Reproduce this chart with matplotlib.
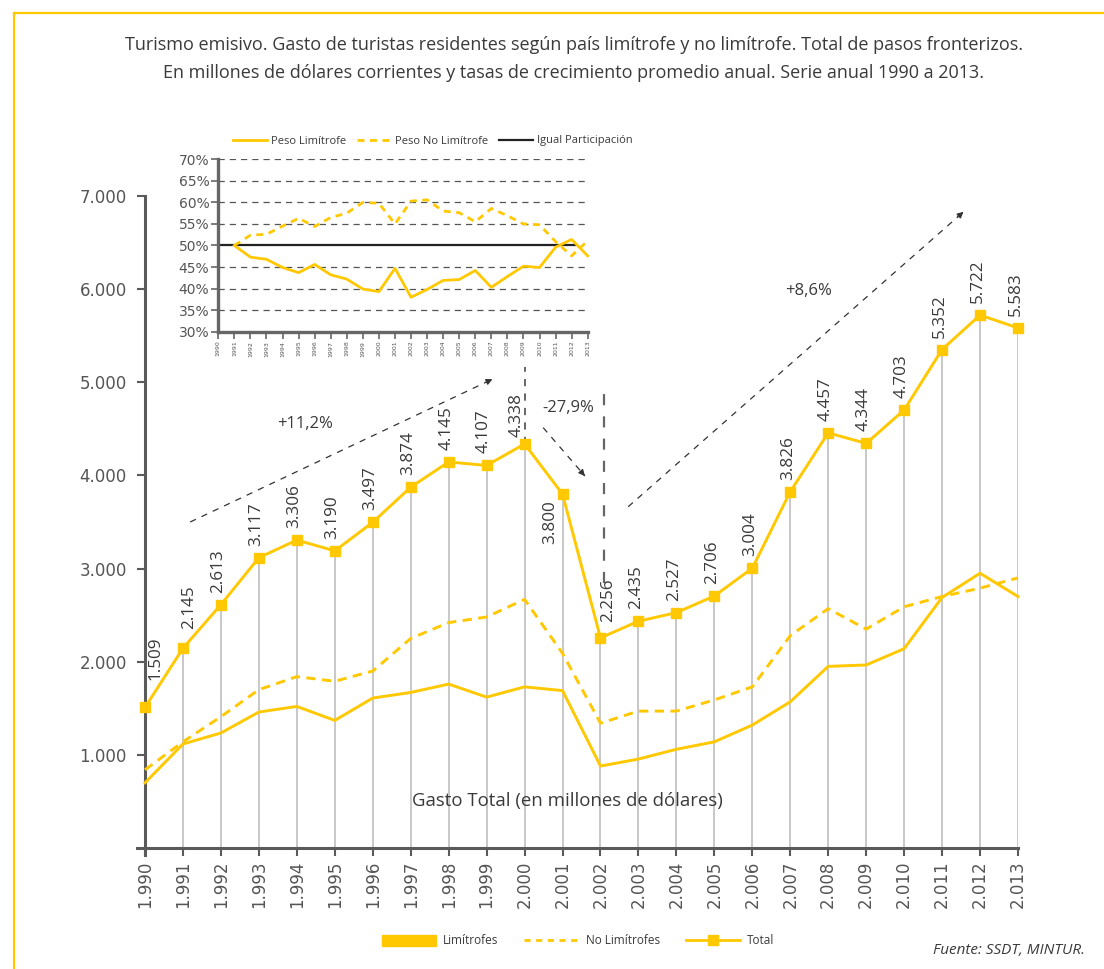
import matplotlib
matplotlib.use("Agg")
import matplotlib.pyplot as plt
from matplotlib.lines import Line2D
from matplotlib.patches import Patch

# ---------------- data ----------------
years = list(range(1990, 2014))
total = [1509, 2145, 2613, 3117, 3306, 3190, 3497, 3874, 4145, 4107, 4338, 3800,
         2256, 2435, 2527, 2706, 3004, 3826, 4457, 4344, 4703, 5352, 5722, 5583]
limitrofes = [700, 1117, 1235, 1460, 1520, 1370, 1610, 1670, 1760, 1620, 1730, 1690,
              880, 955, 1060, 1140, 1320, 1570, 1950, 1965, 2140, 2690, 2950, 2700]
no_limitrofes = [840, 1140, 1410, 1700, 1840, 1790, 1900, 2250, 2420, 2480, 2670, 2090,
                 1340, 1470, 1470, 1590, 1730, 2280, 2570, 2350, 2590, 2700, 2790, 2900]

# shares (%) shown in the small panel
share_years = list(range(1991, 2014))
peso_limitrofe = [50.0, 47.3, 46.8, 44.9, 43.7, 45.6, 43.2, 42.2, 39.9, 39.3, 44.7, 38.0,
                  39.8, 41.9, 42.1, 44.2, 40.3, 42.8, 45.2, 44.9, 49.6, 51.4, 47.6]
peso_no_limitrofe = [50.0, 52.4, 52.6, 54.5, 56.3, 54.4, 56.5, 57.5, 60.0, 59.8, 55.0, 60.3,
                     60.6, 58.0, 57.6, 55.5, 58.6, 56.9, 55.0, 54.8, 50.9, 47.6, 51.1]
igual = 50
pct_ticks = [30, 35, 40, 45, 50, 55, 60, 65, 70]

growth_labels = ["+11,2%", "-27,9%", "+8,6%"]

YEL = "#FFC800"
TXT = "#3a3a3a"
AX = "#5a5a5a"
W, H = 1104, 969

plt.rcParams["font.family"] = ["Open Sans", "DejaVu Sans"]

fig = plt.figure(figsize=(W / 100, H / 100), dpi=100)

def fx(px):
    return px / W

def fy(py):
    return 1 - py / H

# frame lines (top and left)
fig.add_artist(Line2D([fx(14), 1.0], [fy(13), fy(13)], color=YEL, lw=1.6))
fig.add_artist(Line2D([fx(14), fx(14)], [fy(13), 0.0], color=YEL, lw=1.6))

# title
fig.text(fx(574), fy(45), "Turismo emisivo. Gasto de turistas residentes según país limítrofe y no limítrofe. Total de pasos fronterizos.",
         ha="center", va="center", fontsize=13, color=TXT)
fig.text(fx(574), fy(73), "En millones de dólares corrientes y tasas de crecimiento promedio anual. Serie anual 1990 a 2013.",
         ha="center", va="center", fontsize=13, color=TXT)

# ---------------- main axes ----------------
px_per_year = (1018 - 145) / 23
left_px = 145 - 0.2 * px_per_year
ax = fig.add_axes([fx(left_px), fy(855), fx(1018) - fx(left_px), fy(196) - fy(855)])
ax.set_xlim(1989.8, 2013)
ax.set_ylim(-75, 7000)
ax.set_facecolor("none")

for s in ("top", "right"):
    ax.spines[s].set_visible(False)
ax.spines["left"].set_position(("data", 1990))
ax.spines["left"].set_bounds(-75, 7000)
ax.spines["bottom"].set_position(("data", 0))
ax.spines["bottom"].set_bounds(1989.8, 2013)
for s in ("left", "bottom"):
    ax.spines[s].set_color(AX)
    ax.spines[s].set_linewidth(2.2)

ax.set_yticks(range(1000, 7001, 1000))
ax.set_yticklabels([f"{v:,}".replace(",", ".") for v in range(1000, 7001, 1000)],
                   fontfamily="DejaVu Sans", fontsize=12)
ax.set_xticks(years)
ax.set_xticklabels([f"{y:,}".replace(",", ".") for y in years], rotation=90,
                   fontfamily="DejaVu Sans", fontsize=12)
ax.tick_params(axis="both", colors=AX, width=1.5, length=6)
ax.tick_params(axis="x", labelcolor="#555", pad=3)
ax.tick_params(axis="y", labelcolor="#555", pad=7)

# drop lines from the axis to each total
ax.vlines(years, 0, total, color="#c4c4c4", lw=1.3, zorder=1)

ax.plot(years, limitrofes, color=YEL, lw=2.1, zorder=3, clip_on=False)
ax.plot(years, no_limitrofes, color=YEL, lw=2.1, ls=(0, (3.2, 2.2)), zorder=3, clip_on=False)
ax.plot(years, total, color=YEL, lw=2.1, marker="s", ms=7.5, zorder=4, clip_on=False)

# value labels: pixel offsets from each marker (a few are nudged clear of other marks)
label_shift = {1990: (10, 27), 1991: (6, 19), 2000: (-8, 7), 2002: (8, 16)}
for y, v in zip(years, total):
    lab = f"{v:,}".replace(",", ".")
    if y == 2001:
        ax.annotate(lab, (y, v), xytext=(-12, -6), textcoords="offset pixels",
                    rotation=90, ha="center", va="top", fontsize=12.3, color=TXT)
    else:
        dx, dy = label_shift.get(y, (-2.5, 12))
        ax.annotate(lab, (y, v), xytext=(dx, dy), textcoords="offset pixels",
                    rotation=90, ha="center", va="bottom", fontsize=12.3, color=TXT)

# period separators
ax.plot([2000, 2000], [4338, 5167], color=AX, lw=1.3, ls=(0, (4, 4)), zorder=2)
ax.plot([2002.08, 2002.08], [2845, 4971], color="#666", lw=1.6, ls=(0, (5, 5)), zorder=2)

# growth trend arrows
def trend(x0, y0, x1, y1):
    ax.plot([x0, x1], [y0, y1], color="#333", lw=0.9, ls=(0, (5, 5)), zorder=2)
    dx, dy = x1 - x0, y1 - y0
    ax.annotate("", xy=(x1, y1), xytext=(x1 - dx * 0.03, y1 - dy * 0.03),
                arrowprops=dict(arrowstyle="-|>", color="#333", lw=0.9, mutation_scale=9))

trend(1991.19, 3500, 1999.22, 5046)
trend(2000.49, 4513, 2001.59, 3994)
trend(2002.73, 3664, 2011.62, 6850)

ax.text(1994.21, 4552, growth_labels[0], ha="center", va="center", fontsize=12, color=TXT)
ax.text(2001.16, 4719, growth_labels[1], ha="center", va="center", fontsize=12, color=TXT)
ax.text(2007.47, 5975, growth_labels[2], ha="center", va="center", fontsize=12, color=TXT)

ax.text(2001.14, 505, "Gasto Total (en millones de dólares)", ha="center", va="center",
        fontsize=13.4, color=TXT)

# ---------------- share panel ----------------
ix0, ix1 = 218.3, 587.7
iy70, iy30 = 159.3, 331.7
ax2 = fig.add_axes([fx(ix0), fy(iy30), fx(ix1) - fx(ix0) + 0.2 * (ix1 - ix0) / 23 / W, fy(iy70) - fy(iy30)])
ax2.set_xlim(1990, 2013.2)
ax2.set_ylim(30, 70)
ax2.set_facecolor("white")
for s in ("top", "right"):
    ax2.spines[s].set_visible(False)
ax2.spines["bottom"].set_bounds(1990, 2013)
for s in ("left", "bottom"):
    ax2.spines[s].set_color("#666")
    ax2.spines[s].set_linewidth(2.4)

for p in pct_ticks[1:]:
    if p != igual:
        ax2.hlines(p, 1990, 2013, color="#555", lw=0.9, ls=(0, (5, 4)), zorder=1)
ax2.hlines(igual, 1990, 2012.4, color="#222", lw=1.6, zorder=2)
ax2.plot(share_years, peso_limitrofe, color=YEL, lw=2.0, zorder=3, clip_on=False)
ax2.plot(share_years, peso_no_limitrofe, color=YEL, lw=2.0, ls=(0, (2.5, 2.0)), zorder=3, clip_on=False)

ax2.set_yticks(pct_ticks)
ax2.set_yticklabels([f"{p}%" for p in pct_ticks], fontfamily="DejaVu Sans", fontsize=10)
ax2.set_xticks(years)
ax2.set_xticklabels([str(y) for y in years], rotation=90, fontfamily="DejaVu Sans",
                    fontsize=4.5)
ax2.tick_params(axis="both", colors="#666", width=1.2, length=5)
ax2.tick_params(axis="both", labelcolor="#555", pad=1.5)

leg2_handles = [Line2D([], [], color=YEL, lw=2.0),
                Line2D([], [], color=YEL, lw=2.0, ls=(0, (2.5, 2.0))),
                Line2D([], [], color="#222", lw=1.6)]
fig.legend(leg2_handles, ["Peso Limítrofe", "Peso No Limítrofe", "Igual Participación"],
           loc="center", bbox_to_anchor=(fx(433), fy(141)), ncol=3, frameon=False,
           fontsize=8, handlelength=3.0, handletextpad=0.4, columnspacing=1.0,
           labelcolor=TXT)

# ---------------- bottom legend ----------------
leg_handles = [Patch(facecolor=YEL, edgecolor=YEL),
               Line2D([], [], color=YEL, lw=2.0, ls=(0, (2.2, 2.0))),
               Line2D([], [], color=YEL, lw=2.0, marker="s", ms=7)]
fig.legend(leg_handles, ["Limítrofes", "No Limítrofes", "Total"], loc="center",
           bbox_to_anchor=(fx(578), fy(941)), ncol=3, frameon=False, fontsize=8.5,
           handlelength=4.6, handleheight=1.0, handletextpad=0.6, columnspacing=2.2,
           labelcolor=TXT)

fig.text(fx(1085), fy(951), "Fuente: SSDT, MINTUR.", ha="right", va="center",
         fontsize=11, style="italic", color=TXT)

fig.savefig("out.png", dpi=100)
